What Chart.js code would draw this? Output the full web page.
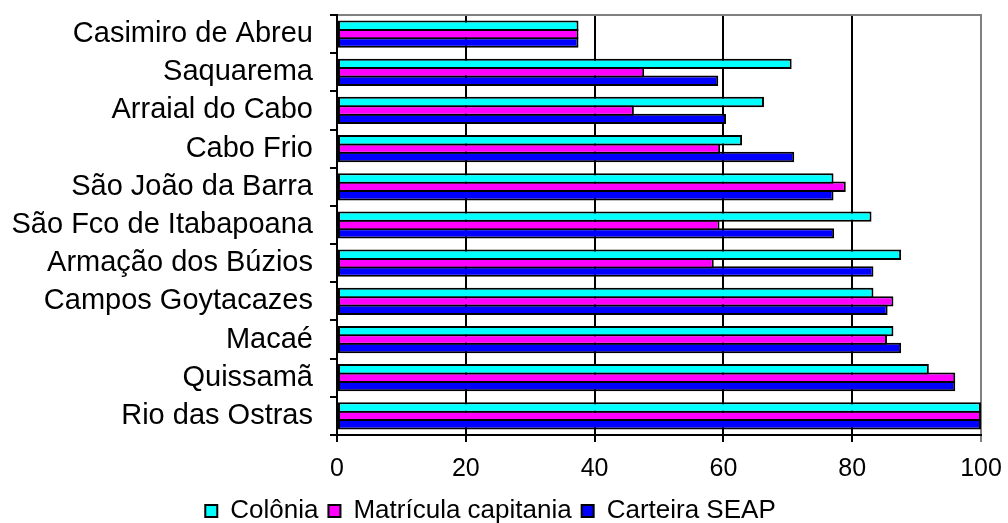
<!DOCTYPE html>
<html>
<head>
<meta charset="utf-8">
<script src="https://cdn.jsdelivr.net/npm/chart.js@4"></script>
<style>
  html, body { margin: 0; padding: 0; background: #fff; }
  #wrap { width: 1008px; height: 523px; }
</style>
</head>
<body>
<div id="wrap"><canvas id="barChart" width="1008" height="523"></canvas></div>
<script>
var municipios = [
    'Casimiro de Abreu', 'Saquarema', 'Arraial do Cabo', 'Cabo Frio',
    'São João da Barra', 'São Fco de Itabapoana', 'Armação dos Búzios',
    'Campos Goytacazes', 'Macaé', 'Quissamã', 'Rio das Ostras'
];
var colonia    = [37.5, 70.6, 66.3, 62.9, 77.1, 83.0, 87.6, 83.3, 86.4, 91.9, 100];
var matricula  = [37.5, 47.7, 46.1, 59.5, 79.0, 59.4, 58.5, 86.4, 85.4, 96.0, 100];
var carteira   = [37.5, 59.2, 60.4, 71.0, 77.1, 77.2, 83.3, 85.5, 87.6, 96.0, 100];
var xTicks = [0, 20, 40, 60, 80, 100];

Chart.defaults.font.family = '"Liberation Sans", Arial, sans-serif';
Chart.defaults.color = '#000';

// bars overlap by their border so neighbours share one black edge
function serie(label, data, color) {
    return {
        label: label,
        data: data,
        backgroundColor: color,
        borderColor: '#000',
        borderWidth: 2,
        borderSkipped: false,
        categoryPercentage: 0.66,
        barPercentage: 1.24
    };
}

var ctx = document.getElementById('barChart');
new Chart(ctx, {
    type: 'bar',
    data: {
        labels: municipios,
        datasets: [
            serie('Colônia', colonia, '#00FFFF'),
            serie('Matrícula capitania', matricula, '#FF00FF'),
            serie('Carteira SEAP', carteira, '#0000FF')
        ]
    },
    options: {
        indexAxis: 'y',
        responsive: false,
        animation: false,
        layout: { padding: { top: 15, right: 27, bottom: -11, left: 0 } },
        scales: {
            x: {
                min: 0, max: 100,
                afterBuildTicks: function(s) { s.ticks = xTicks.map(function(v) { return { value: v }; }); },
                afterFit: function(s) { s.height = 53; s.paddingLeft = 0; s.paddingRight = 0; },
                border: { color: '#000', width: 2 },
                grid: {
                    color: function(c) { return c.tick && c.tick.value === 100 ? '#808080' : '#000'; },
                    lineWidth: 2,
                    tickLength: 7,
                    drawTicks: true
                },
                ticks: { font: { size: 25 }, padding: 12, maxRotation: 0 }
            },
            x2: {
                position: 'top',
                min: 0, max: 100,
                afterFit: function(s) { s.height = 0; },
                border: { color: '#808080', width: 2 },
                grid: { drawOnChartArea: false, drawTicks: false },
                ticks: { display: false }
            },
            y: {
                afterFit: function(s) { s.width = 337; s.paddingTop = 0; s.paddingBottom = 0; },
                border: { color: '#000', width: 2 },
                grid: { drawOnChartArea: false, tickLength: 7, color: '#000', lineWidth: 2 },
                ticks: { font: { size: 29 }, padding: 17, autoSkip: false }
            }
        },
        plugins: {
            legend: {
                position: 'bottom',
                labels: { font: { size: 26 }, boxWidth: 12, boxHeight: 12, padding: 10 }
            },
            tooltip: { enabled: false }
        }
    }
});
</script>
</body>
</html>
